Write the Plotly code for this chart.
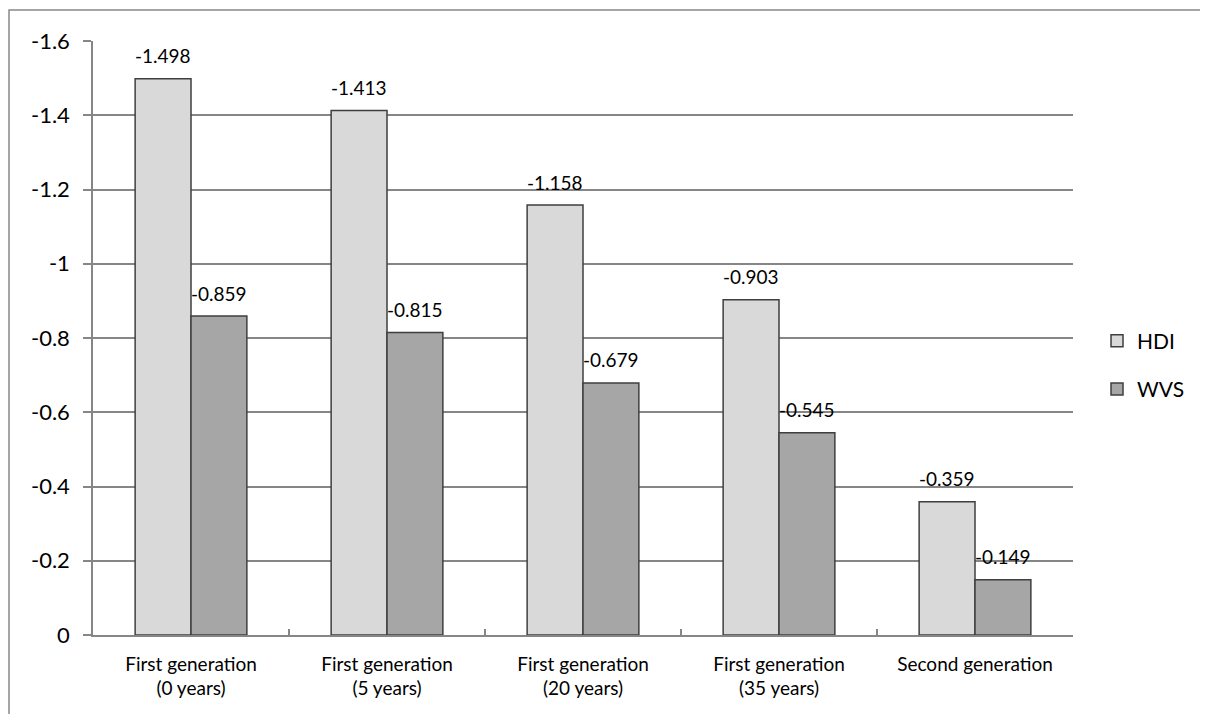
import plotly.graph_objects as go

categories = ["First generation<br>(0 years)", "First generation<br>(5 years)",
              "First generation<br>(20 years)", "First generation<br>(35 years)",
              "Second generation"]
hdi = [-1.498, -1.413, -1.158, -0.903, -0.359]
wvs = [-0.859, -0.815, -0.679, -0.545, -0.149]
ytick_vals = [0, -0.2, -0.4, -0.6, -0.8, -1, -1.2, -1.4, -1.6]
ytick_text = ["0", "-0.2", "-0.4", "-0.6", "-0.8", "-1", "-1.2", "-1.4", "-1.6"]

FONT = "Lato"
fig = go.Figure()
fig.add_trace(go.Bar(
    name="HDI", x=categories, y=hdi,
    marker=dict(color="#d9d9d9", line=dict(color="#3f3f3f", width=1.5)),
    legendgroup="a"))
fig.add_trace(go.Bar(
    name="WVS", x=categories, y=wvs,
    marker=dict(color="#a6a6a6", line=dict(color="#3f3f3f", width=1.5)),
    legendgroup="b"))

annotations = []
for series, shift in ((hdi, -28), (wvs, 28)):
    for c, v in zip(categories, series):
        annotations.append(dict(x=c, y=v, xref="x", yref="y", text=f"{v:.3f}",
                                showarrow=False, xshift=shift, yshift=23,
                                yanchor="middle", xanchor="center",
                                font=dict(size=19, family=FONT, color="#000")))

fig.update_layout(
    width=1200, height=706,
    margin=dict(l=85, r=135, t=33, b=79),
    paper_bgcolor="white", plot_bgcolor="white",
    barmode="group", bargap=0.43, bargroupgap=0,
    font=dict(family=FONT, color="#000"),
    legend=dict(x=1.0245, y=0.4545, xanchor="left", yanchor="middle",
                font=dict(size=21, family=FONT), tracegroupgap=18,
                bgcolor="rgba(0,0,0,0)"),
    xaxis=dict(type="category", showline=True, linecolor="#868686", linewidth=1.5,
               ticks="inside", tickson="boundaries", ticklen=6, tickcolor="#868686",
               tickwidth=1.5, showgrid=False, tickfont=dict(size=19, family=FONT),
               ticklabelstandoff=11),
    yaxis=dict(range=[0, -1.6], tickvals=ytick_vals, ticktext=ytick_text,
               showgrid=True, gridcolor="#868686", gridwidth=1.5,
               showline=True, linecolor="#868686", linewidth=1.5,
               ticks="outside", ticklen=8, tickcolor="#868686", tickwidth=1.5,
               zeroline=False, tickfont=dict(size=22, family=FONT),
               ticklabelstandoff=9),
    annotations=annotations,
    shapes=[dict(type="path", xref="paper", yref="paper",
                 path="M -0.0857,-0.2 L -0.0857,1.0522 L 1.16,1.0522",
                 line=dict(color="#888888", width=1.5))],
)
fig.write_html("out.html")
